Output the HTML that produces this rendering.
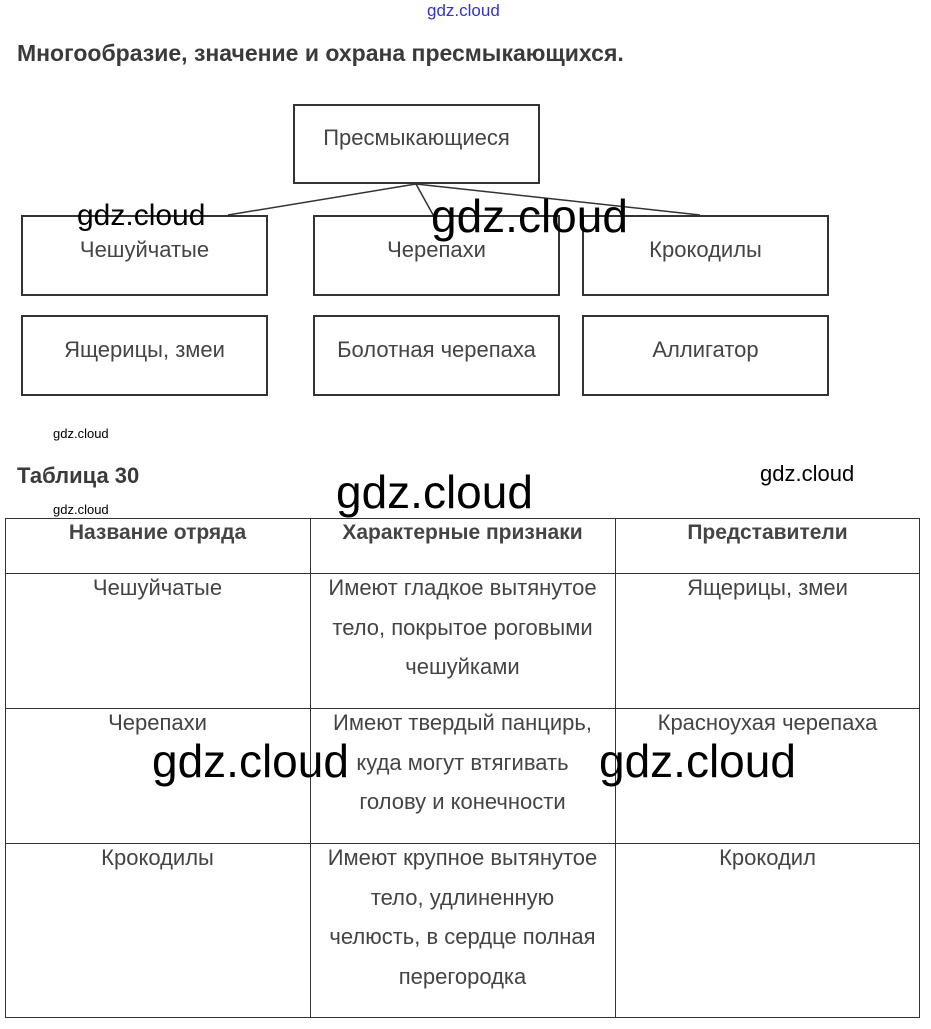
<!DOCTYPE html>
<html><head><meta charset="utf-8"><style>
body{margin:0;width:931px;height:1029px;background:#fff;position:relative;overflow:hidden;font-family:"Liberation Sans",sans-serif;}
.a{position:absolute;}
.box{position:absolute;border:2px solid #333;box-sizing:border-box;color:#444;font-size:22px;text-align:center;}
.t{position:absolute;color:#444;font-size:22px;text-align:center;line-height:39.5px;}
.h{font-weight:bold;color:#444;font-size:21px;}
.wm{position:absolute;color:#000;font-family:"Liberation Sans",sans-serif;white-space:nowrap;}
.ln{position:absolute;background:#333;}
</style></head><body>
<div class="a" style="left:427px;top:1px;font-size:17px;color:#33c;">gdz.cloud</div>
<div class="a" style="left:17px;top:40px;font-size:23px;font-weight:bold;color:#3a3a3a;">Многообразие, значение и охрана пресмыкающихся.</div>

<div class="box" style="left:293px;top:104px;width:247px;height:80px;padding-top:19px;">Пресмыкающиеся</div>
<svg class="a" style="left:0;top:0" width="931" height="300"><g stroke="#333" stroke-width="1.5"><line x1="416" y1="184" x2="228" y2="215"/><line x1="416" y1="184" x2="437" y2="222"/><line x1="416" y1="184" x2="700" y2="215"/></g></svg>
<div class="box" style="left:21px;top:215px;width:247px;height:81px;padding-top:20px;">Чешуйчатые</div>
<div class="box" style="left:313px;top:215px;width:247px;height:81px;padding-top:20px;">Черепахи</div>
<div class="box" style="left:582px;top:215px;width:247px;height:81px;padding-top:20px;">Крокодилы</div>
<div class="box" style="left:21px;top:315px;width:247px;height:81px;padding-top:20px;">Ящерицы, змеи</div>
<div class="box" style="left:313px;top:315px;width:247px;height:81px;padding-top:20px;">Болотная черепаха</div>
<div class="box" style="left:582px;top:315px;width:247px;height:81px;padding-top:20px;">Аллигатор</div>

<div class="wm" style="left:77px;top:199px;font-size:30px;">gdz.cloud</div>
<div class="wm" style="left:431px;top:189px;font-size:46px;">gdz.cloud</div>
<div class="wm" style="left:53px;top:426px;font-size:13px;">gdz.cloud</div>
<div class="a" style="left:17px;top:463px;font-size:22px;font-weight:bold;color:#3a3a3a;">Таблица 30</div>
<div class="wm" style="left:760px;top:461px;font-size:22px;">gdz.cloud</div>
<div class="wm" style="left:336px;top:465px;font-size:46px;">gdz.cloud</div>
<div class="wm" style="left:53px;top:502px;font-size:13px;">gdz.cloud</div>

<div class="ln" style="left:5px;top:518px;width:915px;height:1px;"></div>
<div class="ln" style="left:5px;top:573px;width:915px;height:1px;"></div>
<div class="ln" style="left:5px;top:708px;width:915px;height:1px;"></div>
<div class="ln" style="left:5px;top:843px;width:915px;height:1px;"></div>
<div class="ln" style="left:5px;top:1017px;width:915px;height:1px;"></div>
<div class="ln" style="left:5px;top:518px;width:1px;height:500px;"></div>
<div class="ln" style="left:310px;top:518px;width:1px;height:500px;"></div>
<div class="ln" style="left:615px;top:518px;width:1px;height:500px;"></div>
<div class="ln" style="left:919px;top:518px;width:1px;height:500px;"></div>

<div class="t h" style="left:5px;top:513px;width:305px;">Название отряда</div>
<div class="t h" style="left:310px;top:513px;width:305px;">Характерные признаки</div>
<div class="t h" style="left:615px;top:513px;width:305px;">Представители</div>

<div class="t" style="left:5px;top:568px;width:305px;">Чешуйчатые</div>
<div class="t" style="left:310px;top:568px;width:305px;">Имеют гладкое вытянутое<br>тело, покрытое роговыми<br>чешуйками</div>
<div class="t" style="left:615px;top:568px;width:305px;">Ящерицы, змеи</div>

<div class="t" style="left:5px;top:703px;width:305px;">Черепахи</div>
<div class="t" style="left:310px;top:703px;width:305px;">Имеют твердый панцирь,<br>куда могут втягивать<br>голову и конечности</div>
<div class="t" style="left:615px;top:703px;width:305px;">Красноухая черепаха</div>

<div class="t" style="left:5px;top:838px;width:305px;">Крокодилы</div>
<div class="t" style="left:310px;top:838px;width:305px;">Имеют крупное вытянутое<br>тело, удлиненную<br>челюсть, в сердце полная<br>перегородка</div>
<div class="t" style="left:615px;top:838px;width:305px;">Крокодил</div>

<div class="wm" style="left:152px;top:734px;font-size:46px;">gdz.cloud</div>
<div class="wm" style="left:599px;top:734px;font-size:46px;">gdz.cloud</div>
</body></html>
